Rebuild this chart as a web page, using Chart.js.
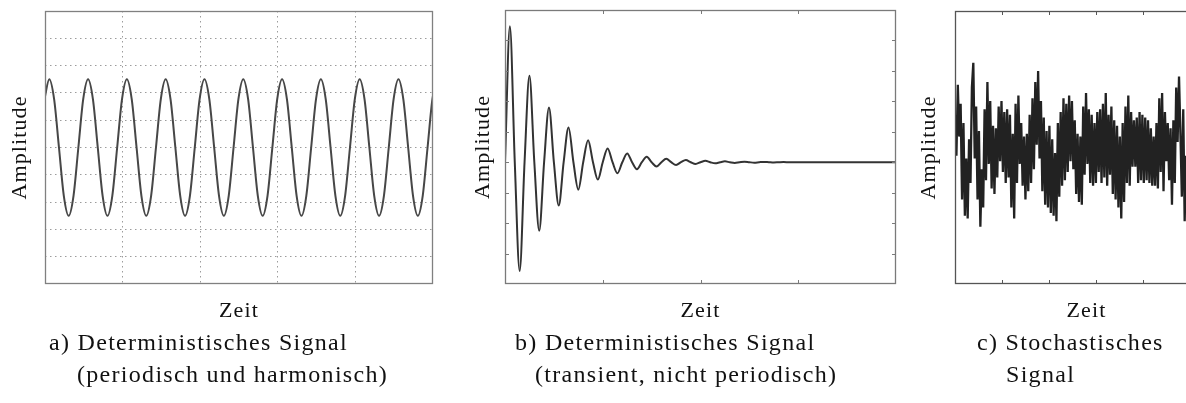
<!DOCTYPE html>
<html lang="de">
<head>
<meta charset="UTF-8">
<title>Signalarten</title>
<script src="https://cdn.jsdelivr.net/npm/chart.js"></script>
<style>
    body {
        margin: 0;
        width: 1186px;
        height: 403px;
        overflow: hidden;
        position: relative;
        background: #fff;
        font-family: "Liberation Serif", "Times New Roman", serif;
    }
    .panel { position: absolute; top: 0; height: 330px; }
    .caption {
        position: absolute;
        top: 326px;
        font-size: 24px;
        line-height: 32px;
        letter-spacing: 1.3px;
        color: #111;
        white-space: nowrap;
    }
</style>
</head>
<body>

<div class="panel" style="left:0; width:440px;"><canvas id="chartA"></canvas></div>
<div class="panel" style="left:460px; width:440px;"><canvas id="chartB"></canvas></div>
<div class="panel" style="left:910px; width:320px;"><canvas id="chartC"></canvas></div>

<div class="caption" style="left:49px;">a) Deterministisches Signal<div style="margin-left:28px;">(periodisch und harmonisch)</div></div>
<div class="caption" style="left:515px;">b) Deterministisches Signal<div style="margin-left:20px;">(transient, nicht periodisch)</div></div>
<div class="caption" style="left:977px;">c) Stochastisches<div style="margin-left:29px;">Signal</div></div>

<script>
// a) harmonic signal, sampled every 1/8 period
const timeStartA = -0.015;
const timeStepA = 0.125;
const ampA = [
    1.77, 2.5, 1.77, 0, -1.77, -2.5, -1.77, 0,
    1.77, 2.5, 1.77, 0, -1.77, -2.5, -1.77, 0,
    1.77, 2.5, 1.77, 0, -1.77, -2.5, -1.77, 0,
    1.77, 2.5, 1.77, 0, -1.77, -2.5, -1.77, 0,
    1.77, 2.5, 1.77, 0, -1.77, -2.5, -1.77, 0,
    1.77, 2.5, 1.77, 0, -1.77, -2.5, -1.77, 0,
    1.77, 2.5, 1.77, 0, -1.77, -2.5, -1.77, 0,
    1.77, 2.5, 1.77, 0, -1.77, -2.5, -1.77, 0,
    1.77, 2.5, 1.77, 0, -1.77, -2.5, -1.77, 0,
    1.77, 2.5, 1.77, 0, -1.77, -2.5, -1.77, 0,
    1.77, 2.5
];

// b) decaying oscillation, sampled every 1/4 period
const timeStartB = 0;
const timeStepB = 0.05;
const ampB = [
    0, 4.47, 0, -3.57, 0, 2.84, 0, -2.25, 0, 1.80,
    0, -1.42, 0, 1.14, 0, -0.90, 0, 0.72, 0, -0.57,
    0, 0.45, 0, -0.36, 0, 0.29, 0, -0.23, 0, 0.18,
    0, -0.14, 0, 0.11, 0, -0.09, 0, 0.07, 0, -0.055,
    0, 0.045, 0, -0.035, 0, 0.028, 0, -0.022, 0, 0.018,
    0, -0.014, 0, 0.011, 0, -0.009, 0, 0.007, 0, -0.005,
    0, 0, 0, 0, 0, 0, 0, 0, 0, 0,
    0, 0, 0, 0, 0, 0, 0, 0, 0, 0,
    0
];

// c) noise record
const timeStartC = 0;
const timeStepC = 0.03;
const ampC = [
    1.2, -0.3, 2.3, 0.4, 1.6, -1.9, 0.9, -2.5, -0.4, -2.6,
    0.3, -1.3, 2.2, 3.1, -0.4, 1.5, -1.9, 0.6, -2.9, -0.8,
    -2.2, 1.4, -1.2, 2.4, -0.6, 1.7, -1.5, 0.8, -1.7, 0.7,
    -1.1, 1.5, -0.5, 1.7, -0.9, 1.3, -1.3, 1.4, -1.1, 1.2,
    -2.2, 0.5, -2.6, 1.6, -1.3, 1.9, -0.6, 0.9, -1.4, 0.4,
    -1.9, 0.5, -1.6, 1.2, -1.3, 1.8, -0.8, 2.4, 0.1, 2.8,
    -0.4, 1.7, -1.6, 1.1, -2.1, 0.6, -2.2, 0.8, -2.4, 0.3,
    -2.5, -0.2, -2.7, 0.9, -1.8, 1.3, -1.4, 1.8, -1.2, 1.6,
    -0.9, 1.9, -0.5, 1.7, -0.8, 1.0, -1.7, 0.5, -2.0, 0.4,
    -2.1, 1.5, -1.0, 2.0, -0.6, 1.4, -1.3, 1.2, -1.4, 0.9,
    -1.3, 1.3, -0.9, 1.4, -1.3, 1.6, -1.1, 2.0, -1.4, 1.2,
    -1.0, 1.5, -1.7, 1.0, -1.9, 0.8, -2.2, 0.4, -2.6, 0.9,
    -2.0, 1.5, -1.3, 1.9, -1.4, 1.3, -0.7, 1.0, -0.7, 1.1,
    -1.3, 1.3, -1.2, 1.2, -1.3, 1.1, -1.2, 1.0, -1.3, 0.7,
    -1.4, 0.4, -1.4, 0.9, -1.5, 1.8, -0.9, 2.0, -1.6, 1.3,
    -0.5, 0.9, -1.2, 0.7, -2.1, 1.0, -1.3, 2.2, 0.2, 2.6,
    0.5, -1.8, 1.4, -2.7, -0.3, -2.3, 0.1, -1.8, 0.8, -1.2,
    1.0
];

const axisFont = { family: "Liberation Serif", size: 22 };

function toPoints(start, step, values) {
    return values.map((v, i) => ({ x: start + i * step, y: v }));
}

// dotted grid lines, left out on the outer edges where the frame sits
function gridColor(ctx) {
    const s = ctx.scale;
    if (!ctx.tick || ctx.tick.value <= s.min || ctx.tick.value >= s.max) return 'rgba(0,0,0,0)';
    return '#9c9c9c';
}

// box around the plot area plus short inward tick marks
const framePlugin = {
    id: 'frame',
    beforeDraw(chart) {
        chart.ctx.letterSpacing = '1.1px';
    },
    afterDraw(chart, args, opts) {
        const { ctx, chartArea: a, scales } = chart;
        ctx.save();
        ctx.strokeStyle = opts.color;
        ctx.lineWidth = 1;
        ctx.beginPath();
        const len = opts.tickLen || 0;
        if (len && opts.xTicks) {
            scales.x.ticks.forEach(t => {
                if (t.value <= scales.x.min || t.value >= scales.x.max) return;
                const px = Math.round(scales.x.getPixelForValue(t.value)) + 0.5;
                ctx.moveTo(px, a.top); ctx.lineTo(px, a.top + len);
                ctx.moveTo(px, a.bottom); ctx.lineTo(px, a.bottom - len);
            });
        }
        if (len && opts.yTicks) {
            scales.y.ticks.forEach(t => {
                if (t.value <= scales.y.min || t.value >= scales.y.max) return;
                const py = Math.round(scales.y.getPixelForValue(t.value)) + 0.5;
                ctx.moveTo(a.left, py); ctx.lineTo(a.left + len, py);
                ctx.moveTo(a.right, py); ctx.lineTo(a.right - len, py);
            });
        }
        ctx.stroke();
        ctx.lineWidth = 1.3;
        ctx.strokeRect(Math.round(a.left) + 0.5, Math.round(a.top) + 0.5,
                       Math.round(a.width) - 1, Math.round(a.height) - 1);
        ctx.restore();
    }
};

function signalChart(id, cfg) {
    const gridOpts = {
        display: !!cfg.grid,
        drawTicks: false,
        color: gridColor,
        lineWidth: 1
    };
    return new Chart(document.getElementById(id), {
        type: 'line',
        data: {
            datasets: [{
                data: cfg.data,
                borderColor: cfg.color,
                borderWidth: cfg.width,
                borderJoinStyle: 'miter',
                pointRadius: 0,
                tension: 0,
                cubicInterpolationMode: cfg.smooth ? 'monotone' : 'default',
                fill: false
            }]
        },
        options: {
            responsive: true,
            maintainAspectRatio: false,
            animation: false,
            events: [],
            layout: { padding: { top: cfg.top, right: cfg.right, left: 0, bottom: 0 } },
            plugins: {
                legend: { display: false },
                tooltip: { enabled: false },
                frame: { color: cfg.frameColor, tickLen: cfg.tickLen, xTicks: cfg.xTicks, yTicks: cfg.yTicks }
            },
            scales: {
                x: {
                    type: 'linear',
                    min: cfg.xMin, max: cfg.xMax,
                    ticks: { display: false, stepSize: cfg.xStep },
                    grid: gridOpts,
                    border: { display: false, dash: [1.5, 3.5] },
                    title: { display: true, text: 'Zeit', font: axisFont, color: '#111', padding: { top: 0, bottom: 6 } },
                    afterFit(scale) { scale.height = 46; }
                },
                y: {
                    min: cfg.yMin, max: cfg.yMax,
                    ticks: { display: false, stepSize: 1 },
                    grid: gridOpts,
                    border: { display: false, dash: [1.5, 3.5] },
                    title: { display: true, text: 'Amplitude', font: axisFont, color: '#111', padding: { top: cfg.titlePad, bottom: 0 } },
                    afterFit(scale) { scale.width = 45; }
                }
            }
        },
        plugins: [framePlugin]
    });
}

signalChart('chartA', {
    data: toPoints(timeStartA, timeStepA, ampA),
    color: '#474747', width: 2, smooth: true,
    xMin: 0, xMax: 10, xStep: 2, yMin: -5, yMax: 5,
    grid: true, frameColor: '#808080', tickLen: 0,
    top: 11, right: 7, titlePad: 7
});

signalChart('chartB', {
    data: toPoints(timeStartB, timeStepB, ampB),
    color: '#333333', width: 2, smooth: true,
    xMin: 0, xMax: 4, xStep: 1, yMin: -4, yMax: 5,
    grid: false, frameColor: '#7a7a7a', tickLen: 4, xTicks: true, yTicks: true,
    top: 10, right: 4, titlePad: 10
});

signalChart('chartC', {
    data: toPoints(timeStartC, timeStepC, ampC),
    color: '#222222', width: 2.3, smooth: false,
    xMin: 0, xMax: 5.6, xStep: 1, yMin: -5, yMax: 5,
    grid: false, frameColor: '#555555', tickLen: 4, xTicks: true, yTicks: false,
    top: 11, right: 12, titlePad: 6
});
</script>
</body>
</html>
